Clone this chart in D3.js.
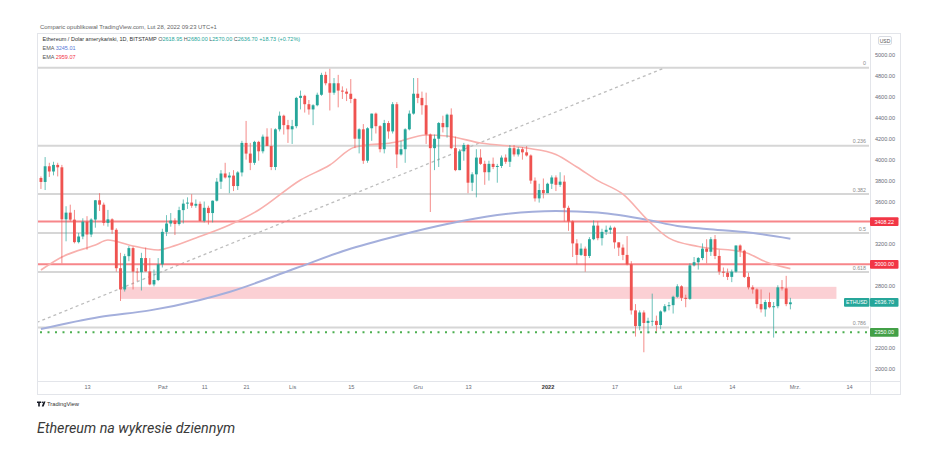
<!DOCTYPE html>
<html><head><meta charset="utf-8">
<script src="https://cdn.jsdelivr.net/npm/d3@7"></script>
<style>
body{margin:0;background:#fff;}
svg{display:block;font-family:"Liberation Sans","Noto Sans",sans-serif;}
</style></head><body>
<svg id="c" width="926" height="451"></svg>
<script>
// ---------- DATA ----------
const startDate = "2021-09-02"; // first daily candle, one per day afterwards
const opens = [
 3825,3787,3937,3887,3950,3927,3430,3494,3427,3212,3266,3408,3285,3428,3612,3570,3396,3430,3330,2963,2760,3078,3155,2930,2925,3060,2932,2808,2850,
 3000,3310,3390,3418,3385,3518,3580,3590,3560,3578,3415,3540,3490,3608,3790,3868,3830,3848,3748,3878,4160,4058,3970,4170,4080,4220,4130,3930,4290,4420,4330,
 4290,4320,4590,4610,4530,4480,4520,4620,4810,4730,4640,4730,4660,4650,4630,4580,4200,4290,3990,4300,4440,4320,4100,4350,4270,4530,4050,4100,4290,4440,
 4630,4590,4520,4240,4110,4200,4350,4310,4430,4110,3900,4080,4140,3780,3860,4020,3960,3880,3960,3930,3940,4020,3980,4110,4050,4100,4070,4040,3800,3630,3710,
 3680,3770,3830,3760,3790,3540,3410,3200,3090,3150,3080,3240,3370,3250,3310,3330,3350,3210,3160,3090,3000,2560,2410,2540,2440,2460,2460,2420,2550,2600,2610,
 2690,2790,2680,2670,2990,3020,3060,3150,3120,3240,3080,2930,2920,2880,2930,3180,3130,2880,2780,2760,2620,2570,2640,2590,2600,2780,2770,2618.95
];
const highs = [
 3840,4025,3970,3980,3970,3950,3555,3570,3520,3300,3440,3460,3440,3615,3680,3590,3520,3440,3345,3110,3100,3175,3170,2965,3110,3160,3060,2950,3060,
 3340,3470,3490,3440,3550,3620,3640,3670,3620,3600,3600,3560,3610,3825,3900,3970,3880,3900,3890,4180,4370,4160,4180,4180,4240,4300,4300,4300,4460,4430,4380,
 4380,4600,4660,4620,4570,4530,4640,4830,4840,4868,4780,4810,4700,4680,4770,4590,4300,4340,4310,4440,4450,4330,4380,4370,4550,4550,4180,4300,4470,4780,
 4780,4650,4640,4250,4240,4360,4420,4440,4490,4220,4100,4160,4150,3880,4100,4100,3990,3990,4020,3960,4040,4050,4140,4140,4120,4120,4130,4050,3830,3770,3820,
 3780,3850,3850,3880,3850,3560,3420,3240,3200,3170,3260,3420,3410,3340,3370,3370,3360,3210,3190,3270,3030,2620,2560,2560,2490,2720,2510,2560,2620,2640,2700,
 2810,2800,2710,3010,3070,3070,3200,3240,3260,3280,3140,2970,2960,2950,3180,3190,3140,2920,2800,2770,2760,2660,2730,2640,2800,2850,2890,2680
];
const lows = [
 3720,3710,3835,3850,3840,3010,3220,3410,3200,3200,3240,3140,3260,3350,3510,3370,3360,3290,2930,2650,2740,3030,2760,2840,2750,2930,2800,2790,2840,
 2970,3270,3360,3280,3370,3390,3530,3540,3540,3410,3400,3380,3400,3600,3720,3820,3680,3700,3710,3840,4000,3900,3950,3990,4060,4130,3900,3900,4270,4240,4160,
 4150,4300,4480,4450,4430,4330,4510,4610,4710,4470,4620,4500,4580,4560,4540,4110,4060,3960,3970,4180,4250,4070,4060,4200,4250,3920,4040,3970,4280,4430,
 4540,4430,4150,3500,3900,3930,4260,4210,4100,3890,3900,3990,3680,3700,3640,3950,3760,3800,3910,3780,3920,3960,3930,4030,4030,4000,4030,3770,3600,3590,3630,
 3680,3720,3700,3740,3410,3320,3070,3000,3080,2930,3060,3230,3230,3180,3280,3290,3150,3080,3040,2990,2520,2310,2370,2160,2340,2410,2360,2380,2540,2560,2530,
 2680,2650,2590,2660,2980,2950,3040,3010,3080,3050,2900,2880,2850,2830,2920,3070,2870,2760,2720,2580,2540,2500,2580,2300,2580,2750,2600,2570
];
const closes = [
 3787,3937,3887,3950,3927,3430,3494,3427,3212,3266,3408,3285,3428,3612,3570,3396,3430,3330,2963,2760,3078,3155,2930,2925,3060,2932,2808,2850,3000,
 3310,3390,3418,3385,3518,3580,3590,3560,3578,3415,3540,3490,3608,3790,3868,3830,3848,3748,3878,4160,4058,3970,4170,4080,4220,4130,3930,4290,4420,4330,4290,
 4320,4590,4610,4530,4480,4520,4620,4810,4730,4640,4730,4660,4650,4630,4580,4200,4290,3990,4300,4440,4320,4100,4350,4270,4530,4050,4100,4290,4440,4630,
 4590,4520,4240,4110,4200,4350,4310,4430,4110,3900,4080,4140,3780,3860,4020,3960,3880,3960,3930,3940,4020,3980,4110,4050,4100,4070,4040,3800,3630,3710,3680,
 3770,3830,3760,3790,3540,3410,3200,3090,3150,3080,3240,3370,3250,3310,3330,3350,3210,3160,3090,3000,2560,2410,2540,2440,2460,2460,2420,2550,2600,2610,2690,
 2790,2680,2670,2990,3020,3060,3150,3120,3240,3080,2930,2920,2880,2930,3180,3130,2880,2780,2760,2620,2570,2640,2590,2600,2780,2770,2620,2636.70
];
// EMA (slow, blue)
const emaSlowDates  = ["2021-09-02","2021-09-16","2021-09-28","2021-10-10","2021-10-17","2021-11-02","2021-11-14","2021-11-26","2021-12-08","2021-12-20","2022-01-03","2022-01-13","2022-01-25","2022-02-01","2022-02-08","2022-02-17","2022-02-28"];
const emaSlowValues = [2382,2497,2560,2660,2736,2965,3137,3271,3385,3471,3510,3495,3424,3366,3338,3309,3245];
// EMA (fast, red)
const emaFastDates  = ["2021-09-02","2021-09-07","2021-09-15","2021-09-18","2021-09-23","2021-09-30","2021-10-03","2021-10-09","2021-10-17","2021-10-24","2021-11-03","2021-11-10","2021-11-16","2021-11-26","2021-12-03","2021-12-08","2021-12-16","2021-12-27","2022-01-03","2022-01-08","2022-01-13","2022-01-19","2022-01-25","2022-01-30","2022-02-06","2022-02-17","2022-02-23","2022-02-28"];
const emaFastValues = [2946,3070,3185,3232,3185,3137,3166,3252,3376,3519,3806,3949,4121,4169,4236,4226,4159,4111,4050,3930,3800,3670,3420,3250,3170,3115,3010,2959];
// Fibonacci retracement
const fibRatios = [0,0.236,0.382,0.5,0.618,0.786];
const fibHigh = 4878, fibLow = 1720;
const trendDates = ["2021-09-01","2022-01-29"];
const trendPrices = [2445, 4878];
// Horizontal levels
const resistanceLevels = [3408.22, 3000.00];
const supportLevel = 2350.00;
const zoneDates = ["2021-09-21","2022-03-11"];
const zonePrices = [2670, 2785];
// Axes
const priceTicks = [2000,2200,2400,2600,2800,3000,3200,3400,3600,3800,4000,4200,4400,4600,4800,5000];
const timeTickDates  = ["2021-09-13","2021-10-01","2021-10-11","2021-10-21","2021-11-01","2021-11-15","2021-12-01","2021-12-13","2022-01-01","2022-01-17","2022-02-01","2022-02-14","2022-03-01","2022-03-14"];
const timeTickLabels = ["13","Paź","11","21","Lis","15","Gru","13","2022","17","Lut","14","Mrz.","14"];
const lastPrice = 2636.70;

// ---------- DRAW ----------
const svg = d3.select("#c");
const P = {L:38, R:870, T:34, B:381};
const pd = d3.utcParse("%Y-%m-%d");
const x = d3.scaleUtc().domain([pd("2021-09-13"), pd("2022-03-14")]).range([87, 849]);
const y = d3.scaleLinear().domain([2000, 5000]).range([369, 55]);
const UP = "#26a69a", DN = "#ef5350";

svg.append("rect").attr("width",926).attr("height",451).attr("fill","#fff");
svg.append("defs").append("clipPath").attr("id","clip").append("rect")
  .attr("x",P.L).attr("y",P.T).attr("width",P.R-P.L).attr("height",P.B-P.T);

// credit line
svg.append("text").attr("x",40).attr("y",28.5).attr("font-size",5.9).attr("fill","#666")
  .text("Comparic opublikował TradingView.com, Lut 28, 2022 09:23 UTC+1");

// frame
svg.append("rect").attr("x",37.5).attr("y",33.5).attr("width",863).attr("height",361)
  .attr("fill","none").attr("stroke","#e3e5ea");
svg.append("line").attr("x1",37.5).attr("x2",900.5).attr("y1",381.5).attr("y2",381.5).attr("stroke","#e3e5ea");
svg.append("line").attr("x1",870.5).attr("x2",870.5).attr("y1",33.5).attr("y2",394.5).attr("stroke","#e3e5ea");

const g = svg.append("g").attr("clip-path","url(#clip)");

// zone
g.append("rect").attr("x",x(pd(zoneDates[0]))).attr("width",x(pd(zoneDates[1]))-x(pd(zoneDates[0])))
  .attr("y",y(zonePrices[1])).attr("height",y(zonePrices[0])-y(zonePrices[1])).attr("fill","#fbd0d4");

// fib lines
const fibPrices = fibRatios.map(r => fibHigh - r*(fibHigh-fibLow));
g.selectAll(".fib").data(fibPrices).join("line")
  .attr("x1",P.L).attr("x2",P.R-1).attr("y1",d=>y(d)).attr("y2",d=>y(d))
  .attr("stroke","#d6d6d6").attr("stroke-width",2);
svg.selectAll(".fibl").data(fibRatios).join("text")
  .attr("x",866).attr("y",(d,i)=>y(fibPrices[i])-2.5).attr("text-anchor","end")
  .attr("font-size",5.3).attr("fill","#8c8c8c").text(d=>d===0?"0":String(d));

// trend dashed
g.append("line").attr("x1",x(pd(trendDates[0]))).attr("y1",y(trendPrices[0]))
  .attr("x2",x(pd(trendDates[1]))).attr("y2",y(trendPrices[1]))
  .attr("stroke","#bdbdbd").attr("stroke-width",1.3).attr("stroke-dasharray","3,3");

// resistance lines
g.selectAll(".res").data(resistanceLevels).join("line")
  .attr("x1",P.L).attr("x2",P.R).attr("y1",d=>y(d)).attr("y2",d=>y(d))
  .attr("stroke","#f7868a").attr("stroke-width",2);
// support dotted
g.append("line").attr("x1",P.L+2).attr("x2",P.R).attr("y1",y(supportLevel)).attr("y2",y(supportLevel))
  .attr("stroke","#4caf50").attr("stroke-width",2).attr("stroke-dasharray","2,5.5");

// EMAs
const line = d3.line().x(d=>x(d[0])).y(d=>y(d[1])).curve(d3.curveMonotoneX);
g.append("path").datum(emaSlowDates.map((d,i)=>[pd(d),emaSlowValues[i]]))
  .attr("d",line).attr("fill","none").attr("stroke","#a4afdc").attr("stroke-width",2);
g.append("path").datum(emaFastDates.map((d,i)=>[pd(d),emaFastValues[i]]))
  .attr("d",line).attr("fill","none").attr("stroke","#f8b0ad").attr("stroke-width",1.6);

// candles
const s0 = pd(startDate);
const candles = closes.map((c,i)=>({date:d3.utcDay.offset(s0,i),o:opens[i],h:highs[i],l:lows[i],c:c}));
const dayW = x(d3.utcDay.offset(s0,1)) - x(s0);
const bw = dayW*0.68;
const cg = g.selectAll(".cd").data(candles).join("g");
cg.append("line").attr("x1",d=>x(d.date)).attr("x2",d=>x(d.date))
  .attr("y1",d=>y(d.h)).attr("y2",d=>y(d.l)).attr("stroke",d=>d.c>=d.o?UP:DN).attr("stroke-width",0.9).attr("opacity",0.75);
cg.append("rect").attr("x",d=>x(d.date)-bw/2).attr("width",bw)
  .attr("y",d=>y(Math.max(d.o,d.c))).attr("height",d=>Math.max(0.8,Math.abs(y(d.o)-y(d.c))))
  .attr("fill",d=>d.c>=d.o?UP:DN);

// price axis (tick labels hidden where a price tag covers them)
const tagPrices = resistanceLevels.concat([supportLevel, lastPrice]);
const visibleTicks = priceTicks.filter(t => tagPrices.every(p => Math.abs(y(p)-y(t)) > 8.5));
const ya = svg.append("g").attr("transform",`translate(${P.R},0)`)
  .call(d3.axisRight(y).tickValues(visibleTicks).tickFormat(d3.format(".2f")).tickSize(0));
ya.select(".domain").remove();
ya.selectAll("text").attr("x",15).attr("text-anchor","middle").attr("font-size",5.6)
  .attr("fill","#6a6d78").attr("font-family","Liberation Sans, sans-serif");

// USD box
svg.append("rect").attr("x",878.5).attr("y",36.5).attr("width",13).attr("height",8).attr("rx",1.5)
  .attr("fill","#fff").attr("stroke","#d8dbe2");
svg.append("text").attr("x",885).attr("y",42.6).attr("text-anchor","middle").attr("font-size",5).attr("fill","#555").text("USD");

// time axis
const xa = svg.append("g").attr("transform",`translate(0,${P.B})`)
  .call(d3.axisBottom(x).tickValues(timeTickDates.map(pd)).tickFormat((d,i)=>timeTickLabels[i]).tickSize(0).tickPadding(4.5));
xa.select(".domain").remove();
xa.selectAll("text").attr("font-size",5.6).attr("font-family","Liberation Sans, sans-serif")
  .attr("font-weight",(d,i)=>timeTickLabels[i]==="2022"?"bold":"normal")
  .attr("fill",(d,i)=>timeTickLabels[i]==="2022"?"#333":"#6a6d78");

// price labels
function priceTag(v, col){
  const yy = y(v);
  svg.append("rect").attr("x",870).attr("y",yy-4.3).attr("width",28.5).attr("height",8.6).attr("rx",1).attr("fill",col);
  svg.append("text").attr("x",884.3).attr("y",yy+2).attr("text-anchor","middle").attr("font-size",5.4)
    .attr("fill","#fff").text(d3.format(".2f")(v));
}
resistanceLevels.forEach(v=>priceTag(v,"#f23645"));
priceTag(supportLevel,"#43a047");
priceTag(lastPrice,UP);
svg.append("rect").attr("x",844).attr("y",y(lastPrice)-4.3).attr("width",25.5).attr("height",8.6).attr("rx",1).attr("fill",UP);
svg.append("text").attr("x",856.7).attr("y",y(lastPrice)+2).attr("text-anchor","middle").attr("font-size",5.2)
  .attr("fill","#fff").text("ETHUSD");

// legend (header inside chart)
const hdr = svg.append("text").attr("x",42.5).attr("y",41).attr("font-size",5.5).attr("fill","#333");
hdr.append("tspan").text("Ethereum / Dolar amerykański, 1D, BITSTAMP  ");
const last = candles[candles.length-1];
[["O",last.o],["H",last.h],["L",last.l],["C",last.c]].forEach(([k,v])=>{
  hdr.append("tspan").attr("fill","#555").text(k);
  hdr.append("tspan").attr("fill",UP).text(d3.format(".2f")(v)+" ");
});
hdr.append("tspan").attr("fill",UP).text("+18.73 (+0.72%)");
const e1 = svg.append("text").attr("x",42.5).attr("y",50).attr("font-size",5.5);
e1.append("tspan").attr("fill","#555").text("EMA  ");
e1.append("tspan").attr("fill","#5677d6").text(d3.format(".2f")(emaSlowValues[emaSlowValues.length-1]+0.01));
const e2 = svg.append("text").attr("x",42.5).attr("y",58.5).attr("font-size",5.5);
e2.append("tspan").attr("fill","#555").text("EMA  ");
e2.append("tspan").attr("fill","#f23645").text(d3.format(".2f")(emaFastValues[emaFastValues.length-1]+0.07));

// footer logo
const lg = svg.append("g").attr("fill","#131722");
lg.append("path").attr("d","M37 401.5h4v1.6h-1.2v3.4h-1.6v-3.4h-1.2z");
lg.append("circle").attr("cx",42.3).attr("cy",402.3).attr("r",0.8);
lg.append("path").attr("d","M43.6 401.5h1.9l-1.9 5h-1.8z");
svg.append("text").attr("x",47).attr("y",406).attr("font-size",5.8).attr("fill","#333").text("TradingView");

// caption
svg.append("text").attr("x",37).attr("y",433).attr("font-size",14.3).attr("font-style","italic")
  .attr("font-family","Roboto, sans-serif").attr("fill","#3a3a3a").text("Ethereum na wykresie dziennym");
</script>
</body></html>
